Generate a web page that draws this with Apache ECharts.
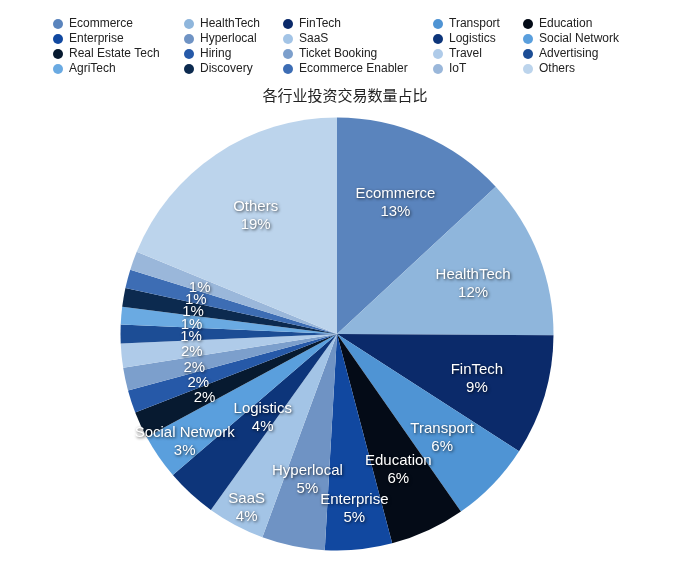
<!DOCTYPE html>
<html>
<head>
<meta charset="utf-8">
<script src="https://cdn.jsdelivr.net/npm/echarts@6/dist/echarts.min.js"></script>
<style>html,body{margin:0;padding:0;background:#fff}#c{width:690px;height:561px}</style>
</head>
<body>
<div id="c"></div>
<script>
const categories = ["Ecommerce","HealthTech","FinTech","Transport","Education","Enterprise","Hyperlocal","SaaS","Logistics","Social Network","Real Estate Tech","Hiring","Ticket Booking","Travel","Advertising","AgriTech","Discovery","Ecommerce Enabler","IoT","Others"];
const values = [131,120,90,62,56,50,47,43,38,34,20,17,17,18,14,13,14,14,14,188];
const colors = ["#5a84bd","#8fb6dc","#0b2a6a","#4f94d4","#040b17","#1148a0","#6f93c4","#a3c4e6","#0d357a","#5a9fdd","#071a30","#2659a8","#7c9fcc","#afcbe9","#1c4d95","#6aaae2","#0c2a4f","#3d6db4","#9ab7da","#bcd4ec"];
const titleText = "各行业投资交易数量占比";
const legendColumns = [
  ["Ecommerce","Enterprise","Real Estate Tech","AgriTech"],
  ["HealthTech","Hyperlocal","Hiring","Discovery"],
  ["FinTech","SaaS","Ticket Booking","Ecommerce Enabler"],
  ["Transport","Logistics","Travel","IoT"],
  ["Education","Social Network","Advertising","Others"]
];
const legendLefts = [53,184,283,433,523];
const CX = 337, CY = 334, R = 216.5;
const labelRadius = {"Enterprise":173,"SaaS":193,"Logistics":110,"Social Network":185};
const defaultLabelRadius = 146;
const labelShiftY = 3;

const chart = echarts.init(document.getElementById('c'), null, {renderer:'canvas'});
const option = {
  animation:false,
  backgroundColor:'#fff',
  color: colors,
  title:{text:titleText,left:'center',top:83,textStyle:{fontSize:15,fontWeight:'normal',color:'#222',fontFamily:'Noto Sans CJK SC'}},
  legend: legendColumns.map((col,i)=>({
    data: col, orient:'vertical', left: legendLefts[i], top:18, padding:0,
    icon:'circle', itemWidth:10, itemHeight:10, itemGap:3,
    textStyle:{fontSize:12,color:'#222',fontFamily:'Liberation Sans',padding:[0,0,0,1]}
  })),
  series:[{
    type:'pie',
    center:[CX,CY],
    radius:[0,R],
    startAngle:90,
    clockwise:true,
    avoidLabelOverlap:false,
    data: categories.map((n,i)=>({name:n,value:values[i]})),
    label:{
      show:true, position:'inside',
      formatter: p => (p.dataIndex < 10 || p.dataIndex === 19 ? p.name + '\n' : '') + Math.round(p.percent) + '%',
      color:'#fff', fontSize:15, lineHeight:18, fontFamily:'Liberation Sans',
      textShadowColor:'rgba(0,0,0,0.75)', textShadowBlur:3, textShadowOffsetX:1, textShadowOffsetY:1
    },
    labelLine:{show:false},
    labelLayout: function(params){
      const r = params.labelRect;
      const lx = r.x + r.width/2, ly = r.y + r.height/2;
      const vx = lx - CX, vy = ly - CY;
      const d = Math.sqrt(vx*vx+vy*vy) || 1;
      const name = categories[params.dataIndex];
      const target = labelRadius[name] || defaultLabelRadius;
      const f = target/d;
      return {dx: vx*(f-1), dy: vy*(f-1) + labelShiftY};
    },
    emphasis:{disabled:true}
  }]
};
chart.setOption(option);
</script>
</body>
</html>
